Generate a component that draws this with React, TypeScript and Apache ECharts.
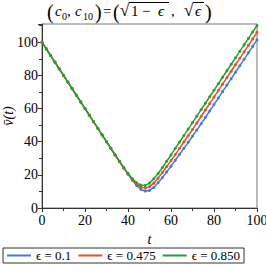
import React, { useEffect, useRef } from "react";
import * as echarts from "echarts";

const tValues = [0,2,4,6,8,10,12,14,16,18,20,22,24,26,28,30,32,34,36,38,40,42,44,46,48,50,52,54,56,58,60,62,64,66,68,70,72,74,76,78,80,82,84,86,88,90,92,94,96,98,100];

const blueVals = [100,96,92,88,84,80,76,72,68,64,60,56,52,48,44,40,36,32,28.1,24.2,20.4,16.8,13.6,11.2,10.2,10.6,12.4,15.2,18.4,21.8,25.2,28.8,32.4,36,39.6,43.3,47,50.8,54.6,58.5,62.4,66.3,70.2,74.1,78,81.9,85.8,89.7,93.6,97.5,101.4];
const redVals = [100,96,92,88,84,80,76,72,68,64,60,56,52,48,44,40,36,32,28.1,24.3,20.6,17.2,14.4,12.6,12,12.8,15,18,21.4,25,28.6,32.2,36,39.8,43.6,47.4,51.3,55.2,59.1,63,66.9,70.8,74.7,78.6,82.5,86.4,90.3,94.2,98.1,102,106];
const greenVals = [100,96,92,88,84,80,76,72,68,64,60,56,52,48,44,40,36,32,28.2,24.4,20.8,17.6,15.2,13.8,13.6,15,17.6,20.8,24.4,28.2,32,36,39.8,43.7,47.6,51.5,55.4,59.3,63.2,67.1,71,75,78.9,82.8,86.7,90.6,94.5,98.4,102.3,106.2,110];

const seriesNames = ["ϵ = 0.1", "ϵ = 0.475", "ϵ = 0.850"];
const seriesColors = ["#4a78d4", "#e0522e", "#2b9e2b"];
const xTicks = [0, 20, 40, 60, 80, 100];
const yAxisTitle = "v̄(t)";

// title pieces: [text, x, y, fontSize, italic]
const titlePieces: [string, number, number, number, boolean][] = [
  ["(", 47, 12, 20, false],
  ["c", 55, 11, 15, true],
  ["0", 62, 16, 10, false],
  [",", 67, 11, 15, false],
  ["c", 75, 11, 15, true],
  ["10", 83, 16, 10, false],
  [")", 95, 12, 20, false],
  ["=", 103, 11, 15, false],
  ["(", 113, 12, 20, false],
  ["√", 120, 10, 17, false],
  ["1", 131, 11, 15, false],
  ["−", 142, 11, 15, false],
  ["ϵ", 158, 11, 15, true],
  [",", 171, 11, 15, false],
  ["√", 184, 10, 17, false],
  ["ϵ", 195, 11, 15, true],
  [")", 205, 12, 20, false],
];

const SERIF = "'Liberation Serif', 'DejaVu Serif', serif";

export default function App() {
  const ref = useRef<HTMLDivElement>(null);
  useEffect(() => {
    if (!ref.current) return;
    const chart = echarts.init(ref.current, undefined, { renderer: "svg" });
    const all = [blueVals, redVals, greenVals];
    const titleGraphics: any[] = titlePieces.map(([text, x, y, size, italic]) => ({
      type: "text",
      x,
      y,
      style: {
        text,
        fill: "#000",
        font: `${italic ? "italic " : ""}${size}px ${SERIF}`,
        textAlign: "left",
        textVerticalAlign: "middle",
        verticalAlign: "middle",
      },
    }));
    titleGraphics.push(
      { type: "line", shape: { x1: 129, y1: 2.5, x2: 169, y2: 2.5 }, style: { stroke: "#000", lineWidth: 1 } },
      { type: "line", shape: { x1: 193, y1: 2.5, x2: 204, y2: 2.5 }, style: { stroke: "#000", lineWidth: 1 } },
      {
        type: "text",
        x: 8,
        y: 116,
        rotation: Math.PI / 2,
        style: {
          text: yAxisTitle,
          fill: "#000",
          font: `italic 14px ${SERIF}`,
          textAlign: "center",
          textVerticalAlign: "middle",
          verticalAlign: "middle",
        },
      }
    );
    chart.setOption({
      animation: false,
      backgroundColor: "#fff",
      textStyle: { fontFamily: SERIF },
      graphic: titleGraphics,
      grid: { left: 42, right: 9, top: 24, bottom: 59, show: true, borderColor: "#777", borderWidth: 1, outerBoundsMode: "none", containLabel: false },
      xAxis: {
        type: "value",
        min: 0,
        max: 100,
        interval: 20,
        name: "t",
        nameLocation: "middle",
        nameGap: 24,
        nameTextStyle: { fontFamily: SERIF, fontStyle: "italic", fontSize: 14, color: "#000" },
        axisLine: { show: true, lineStyle: { color: "#333", width: 1 } },
        axisTick: { show: true, inside: false, length: 4, lineStyle: { color: "#333" } },
        minorTick: { show: true, splitNumber: 2, length: 3, lineStyle: { color: "#333" } },
        axisLabel: {
          fontFamily: SERIF, fontSize: 14, color: "#000", margin: 5,
          formatter: (v: number) => (xTicks.includes(v) ? String(v) : ""),
        },
        splitLine: { show: false },
      },
      yAxis: {
        type: "value",
        min: 0,
        max: 111,
        interval: 20,
        axisLine: { show: true, lineStyle: { color: "#333", width: 1 } },
        axisTick: { show: true, inside: false, length: 4, lineStyle: { color: "#333" } },
        minorTick: { show: true, splitNumber: 2, length: 3, lineStyle: { color: "#333" } },
        axisLabel: { fontFamily: SERIF, fontSize: 14, color: "#000", margin: 4, showMaxLabel: false },
        splitLine: { show: false },
      },
      legend: {
        left: 3,
        top: 248,
        itemWidth: 24,
        itemHeight: 2,
        itemGap: 7,
        icon: "rect",
        borderColor: "#333",
        borderWidth: 1,
        padding: [1, 4, 1, 4],
        textStyle: { fontFamily: SERIF, fontSize: 13, color: "#000" },
        data: seriesNames,
      },
      series: seriesNames.map((name, i) => ({
        name,
        type: "line",
        data: tValues.map((t, j) => [t, all[i][j]]),
        symbol: "circle",
        symbolSize: 3,
        showSymbol: true,
        lineStyle: { width: 1.5, color: seriesColors[i] },
        itemStyle: { color: seriesColors[i] },
        color: seriesColors[i],
        z: 2 + i,
      })),
    });
    return () => chart.dispose();
  }, []);
  return <div ref={ref} style={{ width: 266, height: 267, position: "absolute", left: 0, top: 0 }} />;
}
